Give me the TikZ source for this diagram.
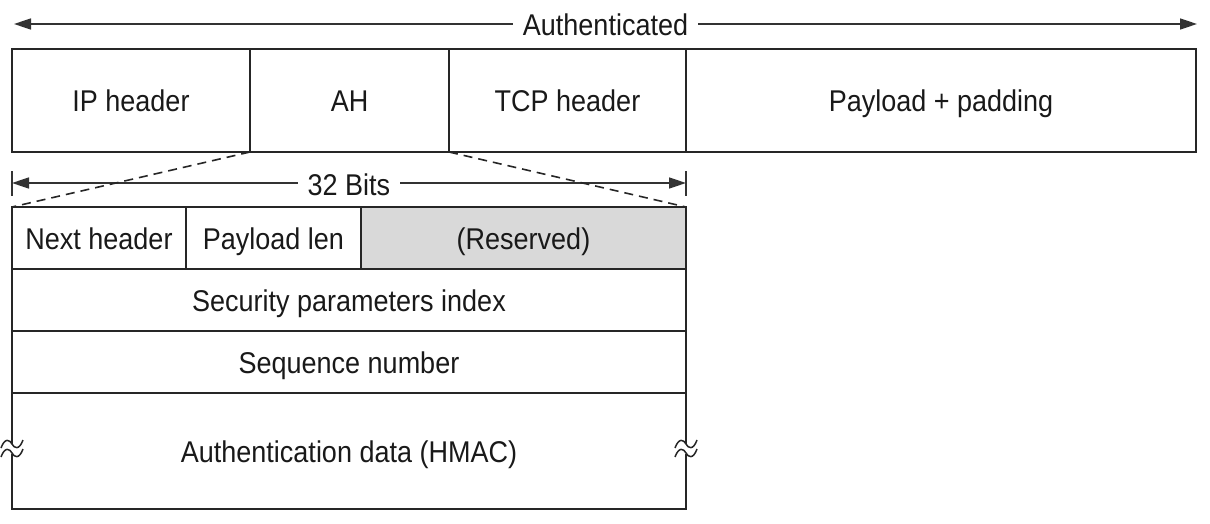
\documentclass[tikz,border=0pt]{standalone}
\usepackage{fontspec}
\setmainfont{Liberation Sans}[FakeStretch=0.9]
\usetikzlibrary{arrows.meta}
\tikzset{
  txt/.style={font=\fontsize{30}{33}\selectfont, text=black!90, text height=23pt, text depth=0pt},
  cell/.style={txt, draw=black!85, line width=1.6pt, inner sep=0pt, outer sep=0pt},
  dim/.style={draw=black!80, line width=1.6pt, {Triangle[length=17pt,width=11pt]}-{Triangle[length=17pt,width=11pt]}},
  lbl/.style={txt, fill=white, inner xsep=10pt, inner ysep=0pt, text height=24pt},
  dsh/.style={draw=black!85, line width=1.6pt, dash pattern=on 9pt off 6pt},
  tick/.style={draw=black!80, line width=1.6pt},
  brk/.pic={
    \fill[white] (-1.5,-0.5) rectangle (1.5,9.5);
    \draw[line width=1.5pt, black!85] (-11,4) .. controls (-7,-7) and (-2,-4) .. (0,0) .. controls (2,4) and (7,7) .. (11,-4);
    \draw[line width=1.5pt, black!85] (-11,13) .. controls (-7,2) and (-2,5) .. (0,9) .. controls (2,13) and (7,16) .. (11,5);
  }
}
\begin{document}
\begin{tikzpicture}[x=1pt,y=-1pt]
\useasboundingbox (0,0) rectangle (1210,524);
% top row
\node[cell, minimum width=238pt, minimum height=103pt] (ip) at (131,100.5) {IP header};
\node[cell, minimum width=199pt, minimum height=103pt] (ah) at (349.5,100.5) {AH};
\node[cell, minimum width=237pt, minimum height=103pt] (tcp) at (567.5,100.5) {TCP header};
\node[cell, minimum width=510pt, minimum height=103pt] (pay) at (941,100.5) {Payload + padding};
% AH detail
\node[cell, minimum width=174pt, minimum height=62pt] (nh) at (99,238) {Next header};
\node[cell, minimum width=175pt, minimum height=62pt] (pl) at (273.5,238) {Payload len};
\node[cell, fill=black!15, minimum width=325pt, minimum height=62pt] (res) at (523.5,238) {(Reserved)};
\node[cell, minimum width=674pt, minimum height=62pt] (spi) at (349,300) {Security parameters index};
\node[cell, minimum width=674pt, minimum height=62pt] (seq) at (349,362) {Sequence number};
\node[cell, minimum width=674pt, minimum height=116pt] (auth) at (349,451) {Authentication data (HMAC)};
% break marks
\pic at (auth.west |- 0,444) {brk};
\pic at (auth.east |- 0,444) {brk};
% top dimension
\coordinate (al) at (14,24);
\coordinate (ar) at (1197,24);
\draw[dim] (al) -- (ar) node[lbl, midway] (authd) {Authenticated};
% 32 bits dimension
\coordinate (bl) at (12,183);
\coordinate (br) at (686,183);
\coordinate (blt) at (12,171);
\coordinate (blb) at (12,196);
\coordinate (brt) at (686,171);
\coordinate (brb) at (686,196);
\draw[tick] (blt) -- (blb);
\draw[tick] (brt) -- (brb);
\draw[dim] (bl) -- (br) node[lbl, midway] (bits) {32 Bits};
% dashed expansion lines
\draw[dsh] (ip.south east) -- (nh.north west);
\draw[dsh] (tcp.south west) -- (res.north east);
\end{tikzpicture}
\end{document}
